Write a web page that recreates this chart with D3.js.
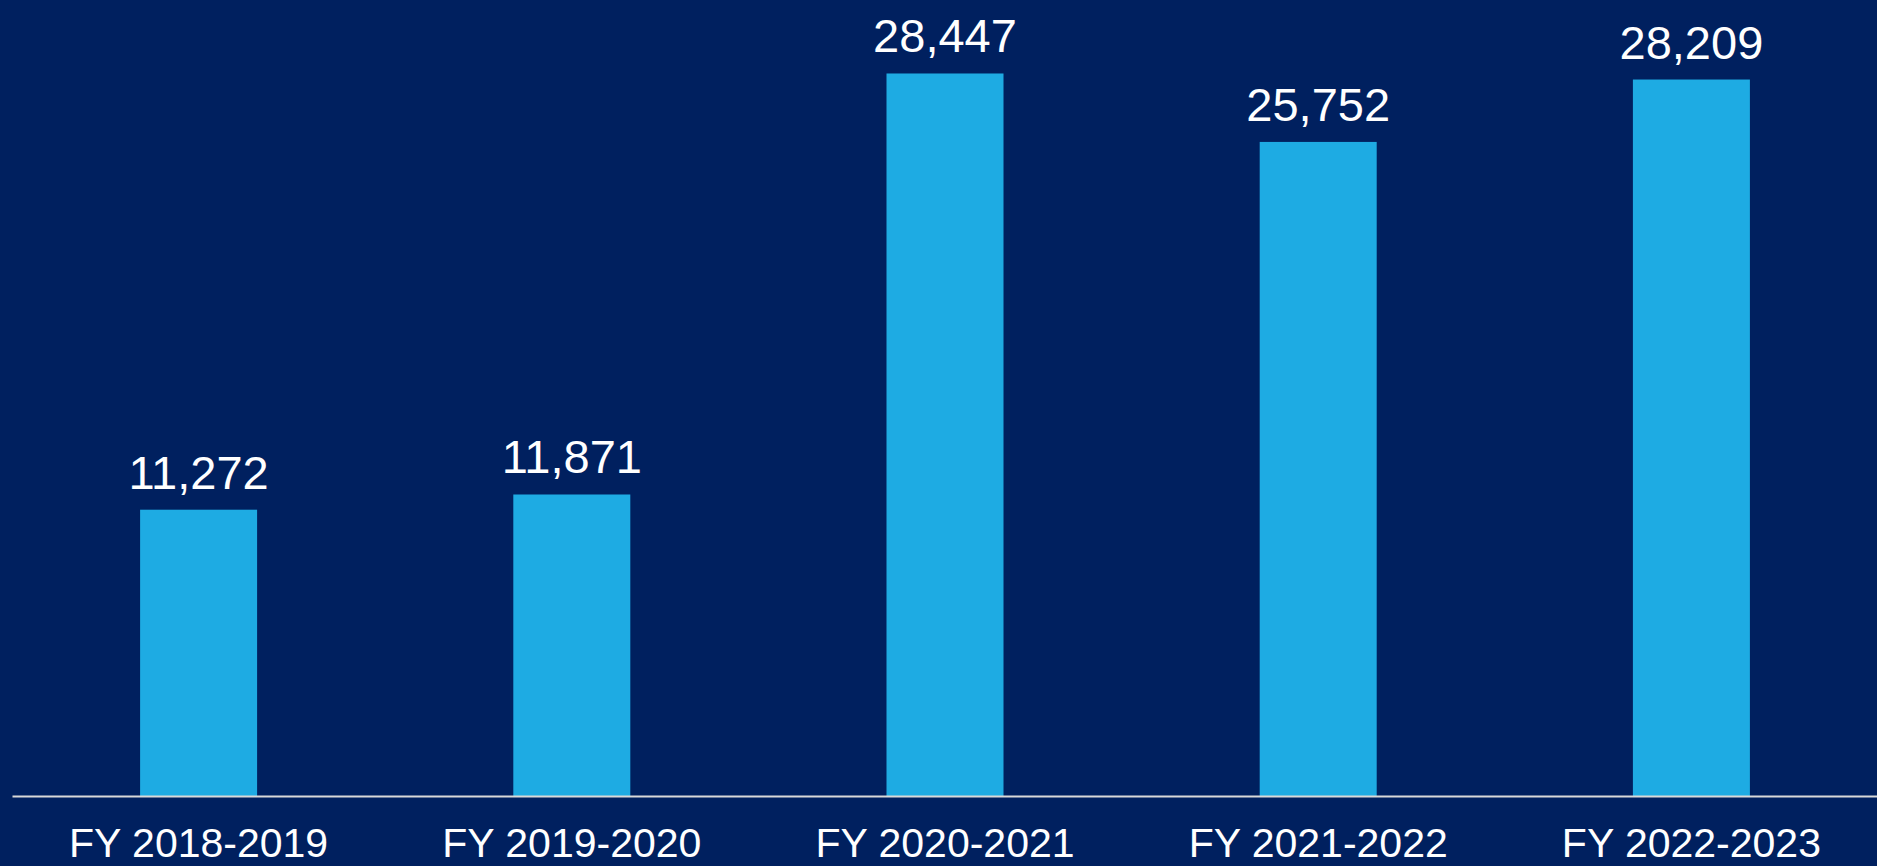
<!DOCTYPE html>
<html>
<head>
<meta charset="utf-8">
<script src="https://cdn.jsdelivr.net/npm/d3@7"></script>
<style>
  html, body { margin: 0; padding: 0; background: #00205f; overflow: hidden; }
  svg { display: block; }
</style>
</head>
<body>
<svg id="chart"></svg>
<script>
// Fiscal years and counts
const years = ['FY 2018-2019', 'FY 2019-2020', 'FY 2020-2021', 'FY 2021-2022', 'FY 2022-2023'];
const counts = [11272, 11871, 28447, 25752, 28209];
const yMax = 31340;

const width = 1877, height = 866;
const baseline = 796;

const svg = d3.select('#chart')
    .attr('width', width)
    .attr('height', height);

svg.append('rect')
    .attr('width', width)
    .attr('height', height)
    .attr('fill', '#00205f');

const data = years.map((y, i) => ({ year: y, count: counts[i] }));

const xScale = d3.scaleBand()
    .domain(years)
    .range([12, 1878])
    .paddingInner(0.6865)
    .paddingOuter(0.6865 / 2);

const yScale = d3.scaleLinear()
    .domain([0, yMax])
    .range([baseline, 0]);

// Bars
svg.selectAll('.bar')
  .data(data)
  .join('rect')
    .attr('class', 'bar')
    .attr('fill', '#1eabe3')
    .attr('x', d => xScale(d.year))
    .attr('width', xScale.bandwidth())
    .attr('y', d => yScale(d.count))
    .attr('height', d => baseline - yScale(d.count));

// Value labels
svg.selectAll('.value')
  .data(data)
  .join('text')
    .attr('class', 'value')
    .attr('x', d => xScale(d.year) + xScale.bandwidth() / 2)
    .attr('y', d => yScale(d.count) - 21)
    .attr('text-anchor', 'middle')
    .attr('fill', '#ffffff')
    .attr('font-family', '"Liberation Sans", Arial, sans-serif')
    .attr('font-size', 47)
    .text(d => d3.format(',')(d.count));

// X axis with the light baseline
const xAxisG = svg.append('g')
    .attr('class', 'axis x-axis')
    .attr('transform', `translate(0,${baseline})`)
    .call(d3.axisBottom(xScale).tickSize(0).tickSizeOuter(0).tickPadding(32));

xAxisG.select('.domain')
    .attr('stroke', '#d9d9d9')
    .attr('stroke-width', 2);

xAxisG.selectAll('text')
    .attr('fill', '#ffffff')
    .attr('font-family', '"Liberation Sans", Arial, sans-serif')
    .attr('font-size', 41);
</script>
</body>
</html>
